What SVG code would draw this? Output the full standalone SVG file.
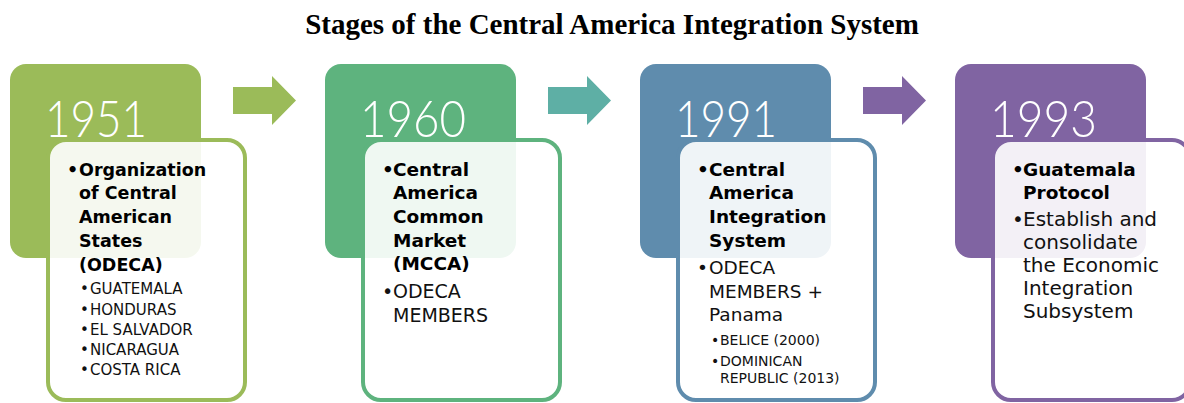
<svg xmlns="http://www.w3.org/2000/svg" width="1184" height="403" viewBox="0 0 1184 403">
<style>
.title{font-family:"Liberation Serif","Times New Roman",serif;font-weight:bold;font-size:29px;fill:#000}
.year{font-family:Lato,"Liberation Sans",sans-serif;font-weight:300;font-size:52px;fill:#fff}
.inner{fill:#fff;fill-opacity:0.9;stroke-width:4}
.b{font-family:"DejaVu Sans","Liberation Sans",sans-serif;font-weight:bold;fill:#000}
.r{font-family:"DejaVu Sans","Liberation Sans",sans-serif;fill:#111}
</style>
<defs>
<polygon id="arr" points="0,11 39,11 39,0 63,24.5 39,49 39,38 0,38"/>
</defs>
<rect width="1184" height="403" fill="#fff"/>
<text class="title" x="612" y="34" text-anchor="middle">Stages of the Central America Integration System</text>

<g id="connectors">
<use href="#arr" x="233" y="76" fill="#9BBB59"/>
<use href="#arr" x="548" y="76" fill="#5EAFA5"/>
<use href="#arr" x="863" y="76" fill="#8064A2"/>
</g>

<g id="node-1951">
<rect x="10" y="64" width="191" height="194" rx="16" fill="#9BBB59"/>
<text class="year" x="45" y="137" textLength="102" lengthAdjust="spacingAndGlyphs">1951</text>
<rect class="inner" x="48" y="140" width="197" height="260" rx="18" stroke="#9BBB59"/>
<g class="b" font-size="17.5">
<text x="67" y="175.5">•</text>
<text x="79" y="175.5">Organization</text>
<text x="79" y="199.3">of Central</text>
<text x="79" y="223">American</text>
<text x="79" y="246.8">States</text>
<text x="79" y="270.6">(ODECA)</text>
</g>
<g class="r" font-size="15">
<text x="80" y="294.3">•</text><text x="90" y="294.3">GUATEMALA</text>
<text x="80" y="314.5">•</text><text x="90" y="314.5">HONDURAS</text>
<text x="80" y="334.7">•</text><text x="90" y="334.7">EL SALVADOR</text>
<text x="80" y="354.9">•</text><text x="90" y="354.9">NICARAGUA</text>
<text x="80" y="375">•</text><text x="90" y="375">COSTA RICA</text>
</g>
</g>

<g id="node-1960">
<rect x="325" y="64" width="191" height="194" rx="16" fill="#5EB37E"/>
<text class="year" x="360" y="137" textLength="106" lengthAdjust="spacingAndGlyphs">1960</text>
<rect class="inner" x="363" y="140" width="197" height="260" rx="18" stroke="#5EB37E"/>
<g class="b" font-size="18.5">
<text x="382" y="175.7">•</text>
<text x="393" y="175.7">Central</text>
<text x="393" y="199.3">America</text>
<text x="393" y="223">Common</text>
<text x="393" y="246.7">Market</text>
<text x="393" y="270.3">(MCCA)</text>
</g>
<g class="r" font-size="19">
<text x="382" y="298.3">•</text>
<text x="393" y="298.3">ODECA</text>
<text x="393" y="321.7">MEMBERS</text>
</g>
</g>

<g id="node-1991">
<rect x="640" y="64" width="191" height="194" rx="16" fill="#5F8CAD"/>
<text class="year" x="675" y="137" textLength="102" lengthAdjust="spacingAndGlyphs">1991</text>
<rect class="inner" x="678" y="140" width="197" height="260" rx="18" stroke="#5F8CAD"/>
<g class="b" font-size="18.5">
<text x="697" y="175.7">•</text>
<text x="709" y="175.7">Central</text>
<text x="709" y="199.3">America</text>
<text x="709" y="223">Integration</text>
<text x="709" y="246.7">System</text>
</g>
<g class="r" font-size="18.5">
<text x="697" y="274.3">•</text>
<text x="709" y="274.3">ODECA</text>
<text x="709" y="297.5">MEMBERS +</text>
<text x="709" y="321">Panama</text>
</g>
<g class="r" font-size="14">
<text x="711" y="345">•</text><text x="720" y="345">BELICE (2000)</text>
<text x="711" y="366">•</text><text x="720" y="366">DOMINICAN</text>
<text x="720" y="382.7">REPUBLIC (2013)</text>
</g>
</g>

<g id="node-1993">
<rect x="955" y="64" width="191" height="194" rx="16" fill="#8064A2"/>
<text class="year" x="990" y="137" textLength="107" lengthAdjust="spacingAndGlyphs">1993</text>
<rect class="inner" x="993" y="140" width="197" height="260" rx="18" stroke="#8064A2"/>
<g class="b" font-size="18.5">
<text x="1012" y="175.7">•</text>
<text x="1023" y="175.7">Guatemala</text>
<text x="1023" y="199.3">Protocol</text>
</g>
<g class="r" font-size="20">
<text x="1012" y="226">•</text>
<text x="1023" y="226">Establish and</text>
<text x="1023" y="249">consolidate</text>
<text x="1023" y="272.3">the Economic</text>
<text x="1023" y="295">Integration</text>
<text x="1023" y="318.3">Subsystem</text>
</g>
</g>
</svg>
